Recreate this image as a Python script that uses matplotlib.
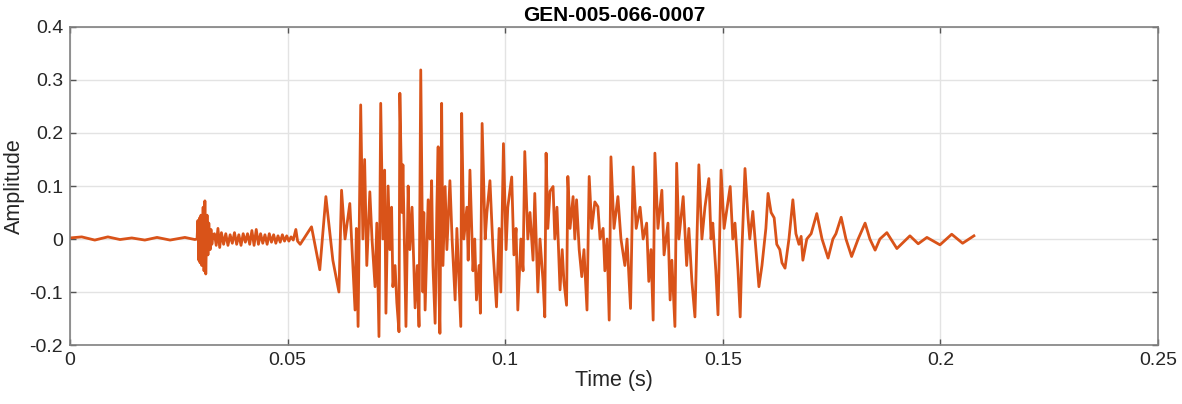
import numpy as np
import matplotlib
matplotlib.use("Agg")
import matplotlib.pyplot as plt

# waveform: times in ms, amplitudes
t_ms = [0, 2.7, 5.7, 8.7, 11.5, 14.2, 17.2, 20.0, 23.0, 26.4, 28.7,
        29.2, 29.4, 29.6, 29.8, 29.9, 30.1, 30.3, 30.6, 30.8, 31.0, 31.2, 31.5, 31.7, 31.9, 32.2, 32.4, 32.6, 32.9,
        33.2, 33.6, 34.0, 34.4, 34.8, 35.3, 35.8, 36.3, 36.8, 37.3, 37.8, 38.3, 38.8, 39.3, 39.8, 40.3, 40.8,
        41.3, 41.8, 42.3, 42.8, 43.3, 43.8, 44.3, 44.8, 45.3, 45.8, 46.3, 46.8, 47.3, 47.8, 48.3, 48.8, 49.3,
        49.8, 50.3, 50.8, 51.3, 51.9, 52.3, 52.9, 55.5,
        57.4, 58.8, 60.4, 61.8, 62.4, 63.2, 64.3, 65.5, 65.8, 66.2, 66.8, 67.3, 67.7, 68.2, 68.9, 69.4, 70.1,
        70.5, 71.0, 71.4, 71.9, 72.3, 72.6, 73.1, 73.5, 73.9, 74.2, 74.7, 75.1, 75.6, 75.8, 76.3, 76.5, 77.2,
        77.7, 78.1, 78.6, 79.3, 79.8, 80.2, 80.6, 81.1, 81.3, 81.6, 82.3, 82.7, 83.1, 83.4, 83.9, 84.3, 84.6,
        84.8, 85.0, 85.4, 85.7, 86.2, 86.6, 87.3, 87.8, 88.5, 88.9, 89.8, 90.0, 90.5, 91.2, 91.5, 91.9, 92.6,
        93.0, 93.4, 94.0, 94.3, 94.7, 95.4, 95.8, 96.5, 97.2, 98.0, 98.6, 99.0, 99.6, 100.2, 100.6, 101.5,
        102.0, 102.5, 102.9, 103.6, 104.1, 104.5, 105.2, 105.7, 106.4, 106.8, 107.5, 108.0, 108.7, 109.1, 109.4,
        109.8, 110.3, 111.0, 111.4, 111.9, 112.6, 113.1, 113.5, 114.1, 114.4, 114.9, 115.6, 116.0, 116.4,
        117.0, 117.6, 118.1, 118.8, 119.3, 119.9, 120.6, 121.3, 121.8, 122.5, 122.9, 123.4, 123.9, 124.3,
        125.0, 125.9, 126.6, 127.5, 128.0, 128.8, 129.4, 130.1, 131.0, 131.7, 132.5, 133.0, 133.5, 134.0,
        134.4, 135.1, 136.0, 136.5, 137.4, 137.9, 138.3, 139.0, 139.4, 139.9, 140.9, 141.4, 141.7, 142.2,
        142.9, 143.6, 144.5, 145.2, 145.9, 146.8, 147.3, 147.7, 148.4, 148.9, 149.6, 150.3, 151.0, 151.7,
        152.3, 152.8, 153.5, 154.0, 154.4, 155.1, 155.8, 156.2, 156.9, 157.6, 158.3, 159.0, 159.9, 160.4,
        161.1, 161.8, 162.4, 163.1, 163.6, 164.3, 165.2, 166.1, 166.8, 167.5, 168.0, 168.4, 169.3, 170.3,
        171.6, 172.8, 174.2, 175.3, 176.0, 177.2, 178.3, 179.6, 181.1, 182.7, 183.8, 185.0, 186.1, 187.7,
        190.0, 193.0, 194.9, 196.9, 199.9, 202.6, 205.1, 207.7]
amp = [0.002, 0.004, -0.002, 0.004, -0.001, 0.002, -0.002, 0.003, -0.002, 0.003, -0.001,
       0.0, 0.035, -0.04, 0.04, -0.045, 0.045, -0.05, 0.06, -0.06, 0.072, -0.066, 0.045, -0.03, 0.03, -0.02, 0.018, -0.01, 0.008,
       0.01, -0.012, 0.02, -0.016, 0.012, -0.01, 0.01, -0.012, 0.008, -0.008, 0.012, -0.01, 0.008, -0.012, 0.01, -0.006, 0.01,
       -0.01, 0.016, -0.012, 0.018, -0.01, 0.01, -0.008, 0.008, -0.01, 0.01, -0.006, 0.008, -0.008, 0.006, -0.006, 0.008, -0.004,
       0.006, -0.004, 0.004, -0.002, 0.018, -0.004, -0.01, 0.023,
       -0.058, 0.080, -0.04, -0.10, 0.092, 0.0, 0.067, -0.134, 0.02, -0.165, 0.253, 0.0, 0.15, -0.05, 0.089, 0.0, -0.09,
       0.03, -0.184, 0.256, 0.0, 0.13, -0.14, 0.10, -0.02, 0.06, -0.09, -0.05, -0.12, -0.175, 0.275, 0.05, 0.14, -0.165,
       0.10, -0.02, 0.06, -0.13, -0.05, -0.165, 0.319, -0.10, 0.05, -0.134, 0.074, 0.0, 0.11, -0.05, -0.159, 0.06, 0.174,
       -0.10, -0.178, 0.256, -0.05, 0.099, -0.02, 0.11, 0.0, -0.115, 0.02, -0.165, 0.237, 0.0, 0.06, -0.04, 0.13, -0.06,
       0.0, -0.115, -0.05, -0.14, 0.218, 0.0, 0.05, 0.11, -0.02, -0.128, 0.02, -0.10, 0.18, -0.02, 0.06, 0.117,
       -0.03, 0.02, -0.134, 0.0, -0.06, 0.165, 0.0, 0.05, -0.04, 0.086, -0.10, 0.0, -0.08, -0.147, 0.162,
       0.02, 0.09, 0.099, 0.0, 0.06, -0.096, -0.02, -0.08, -0.125, 0.118, 0.02, 0.08, 0.0, 0.074,
       -0.02, -0.071, -0.02, -0.134, 0.118, 0.02, 0.07, 0.061, 0.0, 0.02, -0.06, 0.0, -0.153, 0.155,
       0.02, 0.08, 0.0, -0.05, 0.0, -0.131, 0.136, 0.02, 0.06, 0.0, 0.03, -0.08, -0.02, -0.153,
       0.162, 0.02, 0.092, -0.03, 0.03, -0.115, -0.04, -0.165, 0.143, 0.0, 0.08, 0.0, -0.05, 0.02,
       -0.08, -0.147, 0.14, 0.0, 0.06, 0.114, 0.0, 0.03, -0.06, -0.143, 0.13, 0.02, 0.06, 0.099,
       0.0, 0.03, -0.06, -0.147, -0.02, 0.133, 0.04, 0.0, 0.052, -0.02, -0.09, -0.05, 0.02, 0.086,
       0.05, 0.04, -0.01, -0.02, -0.045, -0.055, 0.0, 0.074, 0.01, -0.01, 0.005, -0.04, 0.0, 0.01,
       0.048, 0.0, -0.036, 0.0, 0.01, 0.041, 0.0, -0.033, 0.0, 0.03, 0.0, -0.021, 0.0, 0.012,
       -0.018, 0.006, -0.009, 0.003, -0.011, 0.009, -0.008, 0.006]

x_ticks = [0, 0.05, 0.1, 0.15, 0.2, 0.25]
x_labels = ["0", "0.05", "0.1", "0.15", "0.2", "0.25"]
y_ticks = [-0.2, -0.1, 0, 0.1, 0.2, 0.3, 0.4]
y_labels = ["-0.2", "-0.1", "0", "0.1", "0.2", "0.3", "0.4"]

plt.rcParams['font.family'] = ['Liberation Sans', 'DejaVu Sans']

fig = plt.figure(figsize=(11.82, 4.04), dpi=100)
ax = fig.add_axes([0.0592, 0.146, 0.9205, 0.7872])
t = np.array(t_ms) / 1000.0
ax.plot(t, amp, color='#D95319', lw=2.0)

ax.set_xlim(0, 0.25)
ax.set_ylim(-0.2, 0.4)
ax.set_xticks(x_ticks)
ax.set_xticklabels(x_labels)
ax.set_yticks(y_ticks)
ax.set_yticklabels(y_labels)
ax.grid(True, color='#e3e3e3', lw=1.0)
ax.set_axisbelow(True)
for s in ax.spines.values():
    s.set_color('#808080')
    s.set_linewidth(1.2)
ax.tick_params(direction='in', length=4, width=1.0, color='#555555',
               labelcolor='#262626', labelsize=14, top=True, right=True, pad=5)
ax.set_title("GEN-005-066-0007", fontsize=15, fontweight='bold', color='#000000', pad=4)
ax.set_xlabel("Time (s)", fontsize=15.5, color='#262626', labelpad=1)
ax.set_ylabel("Amplitude", fontsize=15.5, color='#262626', labelpad=3)

fig.savefig("out.png", dpi=100)
